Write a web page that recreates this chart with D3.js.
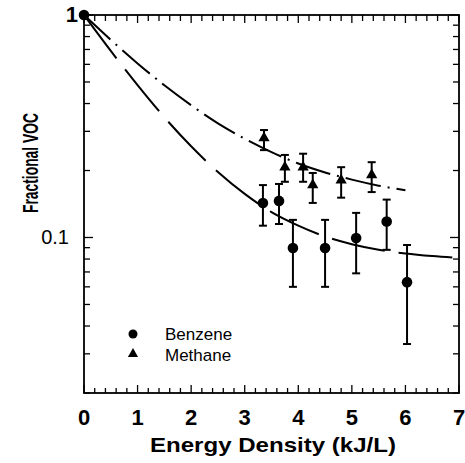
<!DOCTYPE html>
<html><head><meta charset="utf-8">
<script src="https://cdn.jsdelivr.net/npm/d3@7"></script>
<style>body{margin:0;background:#fff}svg{display:block}text{font-family:"Liberation Sans",Arial,sans-serif;fill:#000}</style>
</head><body><svg id="c" width="465" height="463"></svg>
<script>
// Benzene measurements
const benzeneX = [0, 3.34, 3.64, 3.90, 4.50, 5.08, 5.65, 6.03];
const benzeneY = [1, 0.143, 0.146, 0.0897, 0.0897, 0.0995, 0.118, 0.063];
const benzeneHi = [null, 0.172, 0.174, 0.120, 0.120, 0.129, 0.148, 0.0925];
const benzeneLo = [null, 0.113, 0.115, 0.060, 0.060, 0.069, 0.088, 0.0332];
// Methane measurements
const methaneX = [3.36, 3.75, 4.09, 4.27, 4.80, 5.37];
const methaneY = [0.280, 0.207, 0.207, 0.172, 0.181, 0.191];
const methaneHi = [0.304, 0.235, 0.238, 0.195, 0.207, 0.218];
const methaneLo = [0.247, 0.178, 0.178, 0.143, 0.151, 0.160];
// Fitted curves
const fitBenzeneX = [0, 0.5, 1, 1.5, 2, 2.5, 3, 3.5, 4, 4.5, 5, 5.5, 6, 6.5, 7];
const fitBenzeneY = [1, 0.690, 0.484, 0.347, 0.257, 0.197, 0.157, 0.130, 0.113, 0.101, 0.0933, 0.0881, 0.0847, 0.0825, 0.081];
const fitMethaneX = [0, 0.5, 1, 1.5, 2, 2.5, 3, 3.5, 4, 4.5, 5, 5.5, 6];
const fitMethaneY = [1, 0.773, 0.606, 0.483, 0.393, 0.326, 0.278, 0.242, 0.215, 0.196, 0.182, 0.171, 0.163];
// Axis ticks
const xTickLabels = [0, 1, 2, 3, 4, 5, 6, 7];
const yTickLabels = [1, 0.1];
const legendLabels = ["Benzene", "Methane"];

const svg = d3.select("#c");
const x = d3.scaleLinear().domain([0, 7]).range([84, 459]);
const y = d3.scaleLog().domain([0.02, 1]).range([393, 15]);

const xMinor = d3.range(0, 7.0001, 0.2).map(v => +v.toFixed(2));
const yMinor = [];
[0.01, 0.1].forEach(d => { for (let k = 1; k <= 9; k++) { const v = +(d * k).toFixed(3); if (v >= 0.02 && v <= 1) yMinor.push(v); } });
yMinor.push(1);

const g = svg.append("g");
const tickStroke = 1.3;
g.selectAll(".xb").data(xMinor).join("line")
  .attr("x1", d => x(d)).attr("x2", d => x(d))
  .attr("y1", 393).attr("y2", d => 393 - (Math.abs(d - Math.round(d)) < 1e-6 ? 8 : 5))
  .attr("stroke", "#000").attr("stroke-width", tickStroke);
g.selectAll(".xt").data(xMinor).join("line")
  .attr("x1", d => x(d)).attr("x2", d => x(d))
  .attr("y1", 15).attr("y2", d => 15 + (Math.abs(d - Math.round(d)) < 1e-6 ? 8 : 6))
  .attr("stroke", "#000").attr("stroke-width", tickStroke);
g.selectAll(".yl").data(yMinor).join("line")
  .attr("y1", d => y(d)).attr("y2", d => y(d))
  .attr("x1", 84).attr("x2", d => 84 + (yTickLabels.includes(d) ? 9 : 6))
  .attr("stroke", "#000").attr("stroke-width", tickStroke);
g.selectAll(".yr").data(yMinor).join("line")
  .attr("y1", d => y(d)).attr("y2", d => y(d))
  .attr("x1", 459).attr("x2", d => 459 - (yTickLabels.includes(d) ? 9 : 6))
  .attr("stroke", "#000").attr("stroke-width", tickStroke);
g.append("rect").attr("x", 84).attr("y", 15).attr("width", 375).attr("height", 378)
  .attr("fill", "none").attr("stroke", "#000").attr("stroke-width", 1.8);

svg.selectAll(".xl").data(xTickLabels).join("text")
  .attr("x", d => x(d)).attr("y", 425).attr("text-anchor", "middle")
  .attr("font-size", 22).attr("font-weight", "bold").text(d => d);
svg.selectAll(".ylab").data(yTickLabels).join("text")
  .attr("x", d => d === 1 ? 78 : 69).attr("y", d => y(d) + 7).attr("text-anchor", "end")
  .attr("font-size", d => d === 1 ? 22 : 20).attr("font-weight", d => d === 1 ? "bold" : "normal")
  .text(d => d);
svg.append("text").attr("x", 273).attr("y", 452).attr("text-anchor", "middle")
  .attr("font-size", 21).attr("font-weight", "bold")
  .attr("textLength", 246).attr("lengthAdjust", "spacingAndGlyphs").text("Energy Density (kJ/L)");
svg.append("text").attr("transform", "translate(38,163) rotate(-90)").attr("text-anchor", "middle")
  .attr("font-size", 22).attr("font-weight", "bold")
  .attr("textLength", 100).attr("lengthAdjust", "spacingAndGlyphs").text("Fractional VOC");

const line = d3.line().x(d => x(d[0])).y(d => y(d[1])).curve(d3.curveMonotoneX);
svg.append("path").datum(fitBenzeneX.map((v, i) => [v, fitBenzeneY[i]]))
  .attr("d", line).attr("fill", "none").attr("stroke", "#000").attr("stroke-width", 2)
  .attr("stroke-dasharray", "54,14");
svg.append("path").datum(fitMethaneX.map((v, i) => [v, fitMethaneY[i]]))
  .attr("d", line).attr("fill", "none").attr("stroke", "#000").attr("stroke-width", 2)
  .attr("stroke-dasharray", "36,7,2,7");

function errBars(xs, lo, hi) {
  const data = xs.map((v, i) => ({ x: v, lo: lo[i], hi: hi[i] })).filter(d => d.lo != null);
  const eg = svg.append("g").attr("stroke", "#000").attr("stroke-width", 2);
  eg.selectAll(".v").data(data).join("line")
    .attr("x1", d => x(d.x)).attr("x2", d => x(d.x)).attr("y1", d => y(d.lo)).attr("y2", d => y(d.hi));
  eg.selectAll(".h").data(data).join("line")
    .attr("x1", d => x(d.x) - 4).attr("x2", d => x(d.x) + 4).attr("y1", d => y(d.hi)).attr("y2", d => y(d.hi));
  eg.selectAll(".l").data(data).join("line")
    .attr("x1", d => x(d.x) - 4).attr("x2", d => x(d.x) + 4).attr("y1", d => y(d.lo)).attr("y2", d => y(d.lo));
}
errBars(benzeneX, benzeneLo, benzeneHi);
errBars(methaneX, methaneLo, methaneHi);

svg.selectAll(".bz").data(benzeneX.map((v, i) => [v, benzeneY[i]])).join("circle")
  .attr("cx", d => x(d[0])).attr("cy", d => y(d[1])).attr("r", 5.3).attr("fill", "#000");
const tri = d3.symbol().type(d3.symbolTriangle).size(55);
svg.selectAll(".mt").data(methaneX.map((v, i) => [v, methaneY[i]])).join("path")
  .attr("transform", d => `translate(${x(d[0])},${y(d[1])})`).attr("d", tri).attr("fill", "#000");

svg.append("circle").attr("cx", 133).attr("cy", 334).attr("r", 4.5).attr("fill", "#000");
svg.append("path").attr("transform", "translate(133,354)").attr("d", d3.symbol().type(d3.symbolTriangle).size(45)).attr("fill", "#000");
svg.selectAll(".lg").data(legendLabels).join("text")
  .attr("x", 165).attr("y", (d, i) => 340 + i * 21).attr("font-size", 17).text(d => d);
</script></body></html>
